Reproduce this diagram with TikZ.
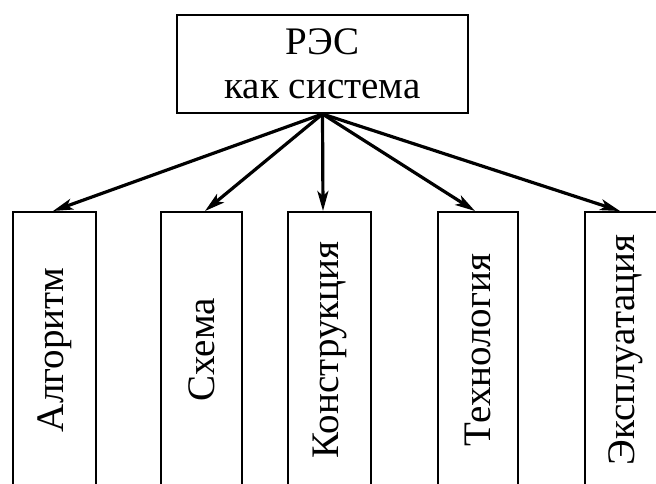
\documentclass[tikz,border=0pt]{standalone}
\usepackage{fontspec}
\setmainfont{Liberation Serif}
\usetikzlibrary{arrows.meta,calc}
\begin{document}
\begin{tikzpicture}[x=1pt,y=-1pt,
  frame/.style={draw, line width=2pt, inner sep=0pt},
  part/.style={frame, rotate=90, minimum width=276pt, font=\fontsize{39}{44}\selectfont},
  link/.style={line width=3.2pt, -{Stealth[length=20pt,width=11pt,inset=5pt]}}]
\useasboundingbox (0,0) rectangle (656,483);
\clip (0,0) rectangle (656,483);

% system block
\node[frame, minimum width=291pt, minimum height=98pt, align=center,
      font=\fontsize{39}{44}\selectfont] (top) at (322.5,64) {РЭС\\как система};

% aspect blocks, running off the lower edge
\node[part, minimum height=83pt] (b1) at (54.5,350) {Алгоритм};
\node[part, minimum height=81pt] (b2) at (201.5,350) {Схема};
\node[part, minimum height=83pt] (b3) at (329.5,350) {Конструкция};
\node[part, minimum height=80pt] (b4) at (478,350) {Технология};
\node[part, minimum height=82pt] (b5) at (626,350) {Эксплуатация};

% links from the system to its aspects
\draw[link] (top.south) -- ([xshift=-1.5pt]b1.east);
\draw[link] (top.south) -- ([xshift=3.5pt]b2.east);
\draw[link] (top.south) -- ([xshift=-6.5pt]b3.east);
\draw[link] (top.south) -- ([xshift=-3pt]b4.east);
\draw[link] (top.south) -- ([xshift=-6pt]b5.east);
\end{tikzpicture}
\end{document}
